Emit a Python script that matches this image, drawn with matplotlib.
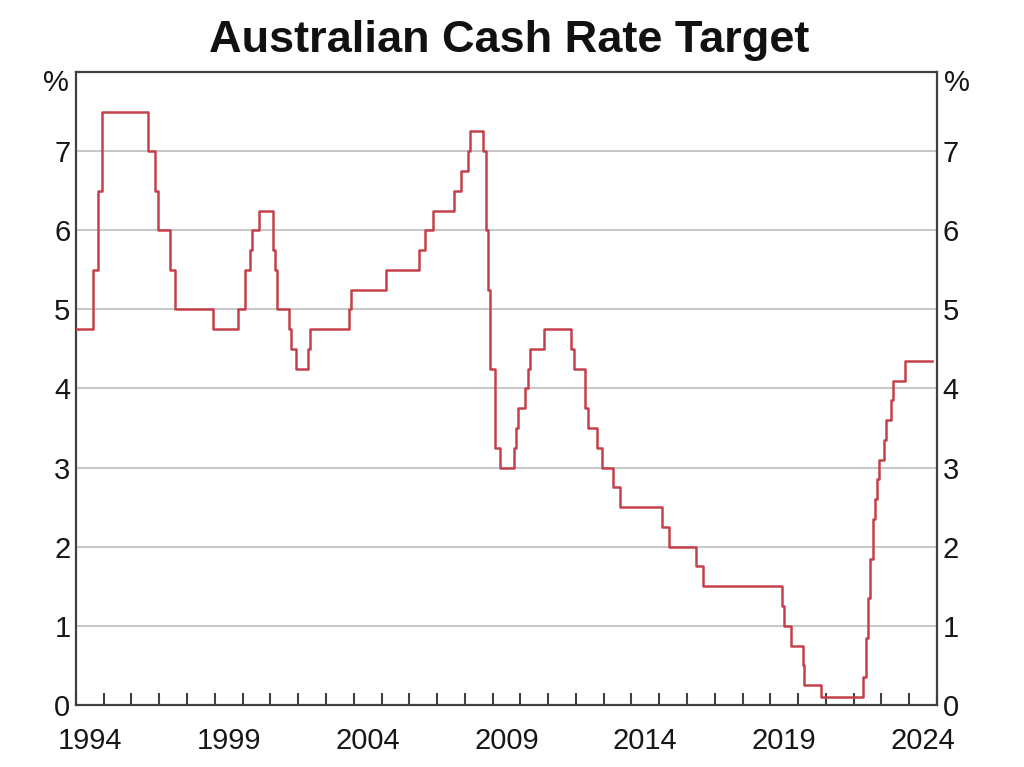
import matplotlib
matplotlib.use("Agg")
import matplotlib.pyplot as plt
import matplotlib.dates as mdates
import pandas as pd

# RBA cash rate target decisions (effective date, rate %)
changeDates = ["1994-01-01", "1994-08-17", "1994-10-24", "1994-12-14",
               "1996-07-31", "1996-11-06", "1996-12-11", "1997-05-23", "1997-07-30",
               "1998-12-02", "1999-11-03", "2000-02-02", "2000-04-05", "2000-05-03",
               "2000-08-02", "2001-02-07", "2001-03-07", "2001-04-04", "2001-09-05",
               "2001-10-03", "2001-12-05", "2002-05-08", "2002-06-05", "2003-11-05",
               "2003-12-03", "2005-03-02", "2006-05-03", "2006-08-02", "2006-11-08",
               "2007-08-08", "2007-11-07", "2008-02-06", "2008-03-05", "2008-09-03",
               "2008-10-08", "2008-11-05", "2008-12-03", "2009-02-04", "2009-04-08",
               "2009-10-07", "2009-11-04", "2009-12-02", "2010-03-03", "2010-04-07",
               "2010-05-05", "2010-11-03", "2011-11-02", "2011-12-07", "2012-05-02",
               "2012-06-06", "2012-10-03", "2012-12-05", "2013-05-08", "2013-08-07",
               "2015-02-04", "2015-05-06", "2016-05-04", "2016-08-03", "2019-06-05",
               "2019-07-03", "2019-10-02", "2020-03-04", "2020-03-20", "2020-11-04",
               "2022-05-04", "2022-06-08", "2022-07-06", "2022-08-03", "2022-09-07",
               "2022-10-05", "2022-11-02", "2022-12-07", "2023-02-08", "2023-03-08",
               "2023-05-03", "2023-06-07", "2023-11-08", "2024-10-31"]
cashRate = [4.75, 5.50, 6.50, 7.50,
            7.00, 6.50, 6.00, 5.50, 5.00,
            4.75, 5.00, 5.50, 5.75, 6.00,
            6.25, 5.75, 5.50, 5.00, 4.75,
            4.50, 4.25, 4.50, 4.75, 5.00,
            5.25, 5.50, 5.75, 6.00, 6.25,
            6.50, 6.75, 7.00, 7.25, 7.00,
            6.00, 5.25, 4.25, 3.25, 3.00,
            3.25, 3.50, 3.75, 4.00, 4.25,
            4.50, 4.75, 4.50, 4.25, 3.75,
            3.50, 3.25, 3.00, 2.75, 2.50,
            2.25, 2.00, 1.75, 1.50, 1.25,
            1.00, 0.75, 0.50, 0.25, 0.10,
            0.35, 0.85, 1.35, 1.85, 2.35,
            2.60, 2.85, 3.10, 3.35, 3.60,
            3.85, 4.10, 4.35, 4.35]

yTicks = [0, 1, 2, 3, 4, 5, 6, 7]
labelYears = [1994, 1999, 2004, 2009, 2014, 2019, 2024]

plt.rcParams['font.family'] = ['Liberation Sans', 'DejaVu Sans']

df = pd.DataFrame({"date": pd.to_datetime(changeDates), "rate": cashRate})

fig = plt.figure(figsize=(10.24, 7.67), dpi=100)
ax = fig.add_axes([0.0742, 0.081, 0.8408, 0.825])

ax.plot(df["date"], df["rate"], drawstyle='steps-post', color='#c4404a', lw=1.8, zorder=3)

ax.set_xlim(pd.Timestamp("1994-01-01"), pd.Timestamp("2025-01-01"))
ax.set_ylim(0, 8)

# grid
for y in yTicks[1:]:
    ax.axhline(y, color='#bdbdbd', lw=1.2, zorder=1)

# year ticks inward, labels centred in year
ax.xaxis.set_major_locator(mdates.YearLocator(1))
ax.xaxis.set_major_formatter(plt.NullFormatter())
ax.tick_params(axis='x', which='major', direction='in', length=9, width=1.5, color='#404040')
ax.set_xticks([pd.Timestamp(f"{y}-07-02") for y in labelYears], minor=True)
ax.set_xticklabels([str(y) for y in labelYears], minor=True)
ax.tick_params(axis='x', which='minor', length=0, pad=16, labelsize=21, labelcolor='#161616')

ax.set_yticks(yTicks)
ax.tick_params(axis='y', length=0, labelsize=21, labelcolor='#161616', pad=4,
               labelleft=True, labelright=True)

for s in ax.spines.values():
    s.set_color('#404040')
    s.set_linewidth(1.6)

ax.text(-0.008, 0.982, '%', transform=ax.transAxes, ha='right', va='center', fontsize=21, color='#161616')
ax.text(1.008, 0.982, '%', transform=ax.transAxes, ha='left', va='center', fontsize=21, color='#161616')

fig.text(0.497, 0.947, 'Australian Cash Rate Target', ha='center', va='center',
         fontsize=32.5, fontweight='bold', color='#111111')

fig.savefig("out.png", dpi=100)
